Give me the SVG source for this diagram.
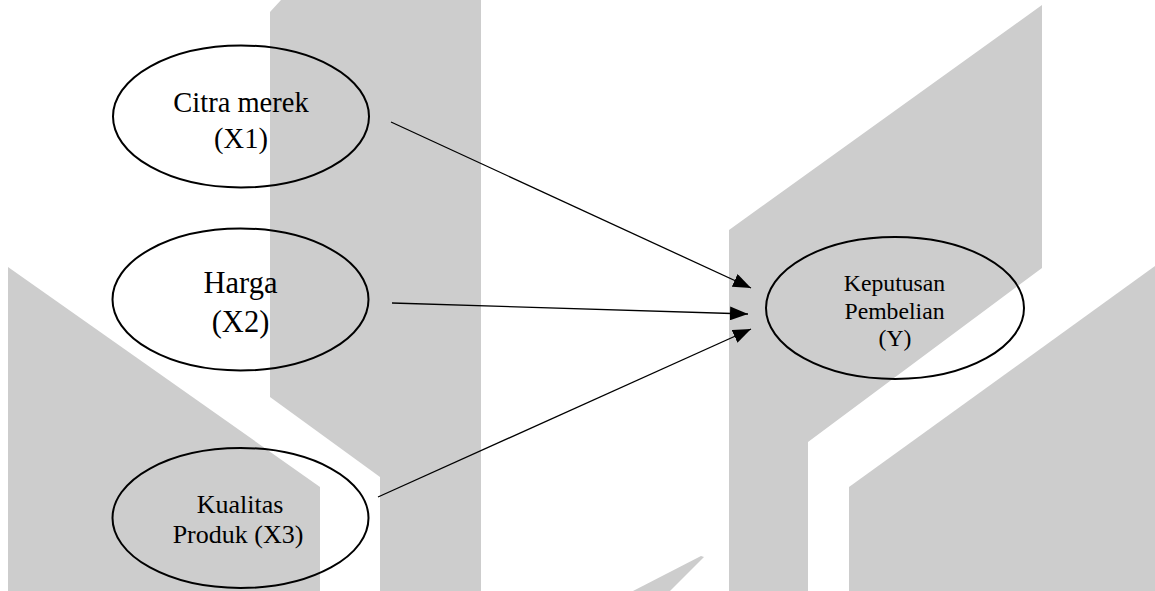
<svg xmlns="http://www.w3.org/2000/svg" width="1155" height="591" viewBox="0 0 1155 591">
  <style>
    .wm { fill: #cdcdcd; stroke: none; }
    .node ellipse { fill: none; stroke: #000; stroke-width: 2; }
    .node text { font-family: 'Liberation Serif', 'DejaVu Serif', serif; fill: #000; text-anchor: middle; }
    .edge { stroke: #000; stroke-width: 1.3; fill: none; marker-end: url(#arrow); }
  </style>
  <defs>
    <marker id="arrow" viewBox="0 0 18 14" refX="18" refY="7" markerWidth="18" markerHeight="14" markerUnits="userSpaceOnUse" orient="auto">
      <path d="M0,0 L18,7 L0,14 z" fill="#000"/>
    </marker>
  </defs>

  <rect width="1155" height="591" fill="#fff"/>

  <!-- background watermark shapes -->
  <g id="watermark">
    <polygon class="wm" points="8,267 320,487 320,591 8,591"/>
    <polygon class="wm" points="270,12 281,0 481,0 481,591 380,591 380,477 270,397"/>
    <polygon class="wm" points="729,230 1042,5 1042,268 808,442 808,591 729,591"/>
    <polygon class="wm" points="849,487 1155,266 1155,591 849,591"/>
    <polygon class="wm" points="633,591 701,556 704,557 670,591"/>
  </g>

  <!-- connectors -->
  <g id="connectors">
    <line class="edge" x1="391" y1="122" x2="751" y2="288"/>
    <line class="edge" x1="392" y1="303" x2="748" y2="314"/>
    <line class="edge" x1="378" y1="497" x2="751" y2="329"/>
  </g>

  <g id="node-x1" class="node" font-family="Liberation Serif, serif">
    <ellipse cx="241" cy="116.5" rx="128" ry="71"/>
    <text x="241" y="112" font-size="28.5">Citra merek</text>
    <text x="241" y="148" font-size="28.5">(X1)</text>
  </g>

  <g id="node-x2" class="node" font-family="Liberation Serif, serif">
    <ellipse cx="240.5" cy="299.5" rx="128" ry="71"/>
    <text x="240.5" y="293" font-size="30.5">Harga</text>
    <text x="240.5" y="331.5" font-size="30.5">(X2)</text>
  </g>

  <g id="node-x3" class="node" font-family="Liberation Serif, serif">
    <ellipse cx="240.5" cy="518" rx="128" ry="70"/>
    <text x="240" y="513" font-size="26">Kualitas</text>
    <text x="238" y="543" font-size="26">Produk (X3)</text>
  </g>

  <g id="node-y" class="node" font-family="Liberation Serif, serif">
    <ellipse cx="895" cy="308" rx="129" ry="71"/>
    <text x="894.5" y="291" font-size="23.7">Keputusan</text>
    <text x="894.5" y="319" font-size="23.7">Pembelian</text>
    <text x="895" y="346" font-size="23.7">(Y)</text>
  </g>
</svg>
